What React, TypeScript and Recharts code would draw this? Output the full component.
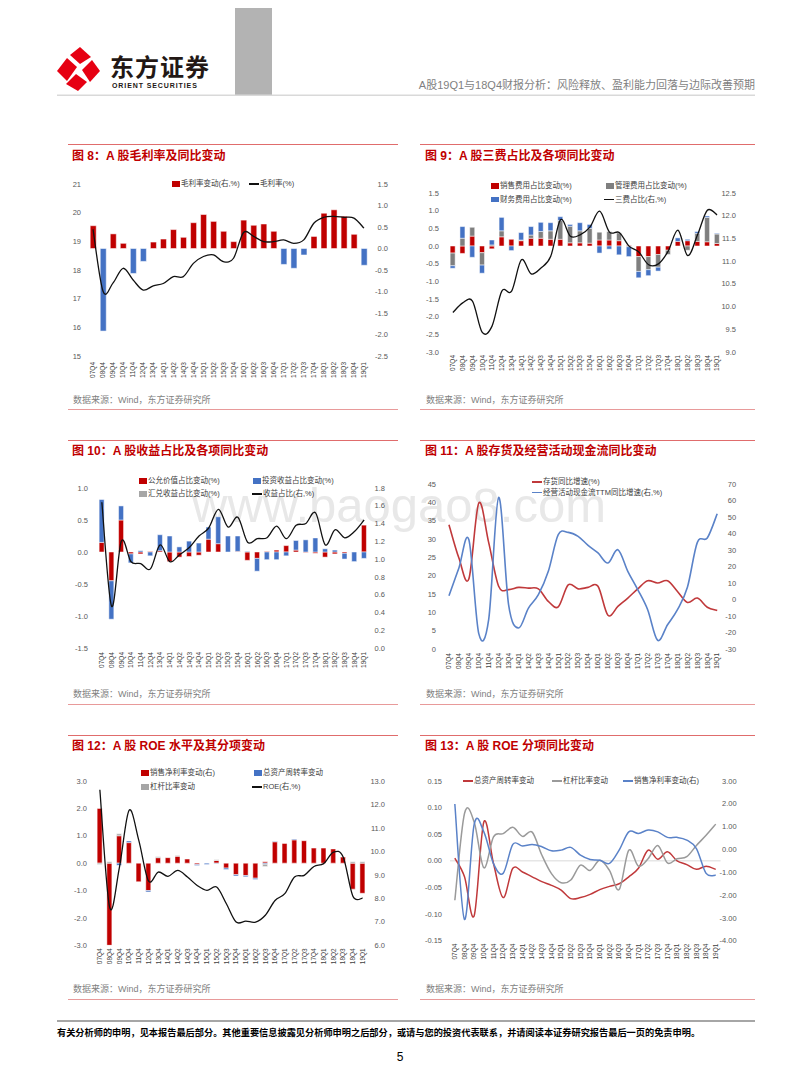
import React from 'react'
import { ComposedChart, Bar, Line, XAxis, YAxis, Cell, ReferenceLine } from 'recharts'

const QUARTERS = [
  '07Q4', '08Q4', '09Q4', '10Q4', '11Q4', '12Q4', '13Q4', '14Q1', '14Q2', '14Q3', '14Q4',
  '15Q1', '15Q2', '15Q3', '15Q4', '16Q1', '16Q2', '16Q3', '16Q4', '17Q1', '17Q2', '17Q3', '17Q4',
  '18Q1', '18Q2', '18Q3', '18Q4', '19Q1',
]

// 图8 毛利率
const GM_CHANGE = [0.53, -1.92, 0.34, 0.12, -0.58, -0.3, 0.15, 0.22, 0.44, 0.26, 0.6, 0.79, 0.63, 0.4, 0.16, 0.66, 0.54, 0.57, 0.4, -0.37, -0.46, -0.15, 0.28, 0.82, 0.9, 0.75, 0.33, -0.39]
const GM_RATE = [19.42, 17.26, 17.55, 18.06, 17.65, 17.3, 17.45, 17.53, 17.77, 17.77, 18.23, 18.47, 18.53, 18.29, 18.41, 19.31, 19.17, 18.99, 18.99, 19.05, 18.93, 19.05, 19.63, 19.84, 19.87, 19.84, 19.81, 19.46]

// 图9 三费
const SALES_EXP = [-0.2, -0.21, 0.28, -0.19, -0.08, 0.26, 0.19, 0.15, 0.22, 0.22, 0.19, 0.19, 0.09, 0.09, 0.08, 0.17, 0.17, 0.15, 0.02, -0.3, -0.3, -0.24, -0.12, 0.13, 0.15, 0.13, 0.12, 0.07]
const MGMT_EXP = [-0.36, 0.22, 0.25, -0.35, 0.03, 0.17, 0.0, 0.02, 0.09, 0.19, 0.24, 0.53, 0.47, 0.34, 0.42, 0.22, 0.24, 0.22, -0.02, -0.42, -0.37, -0.36, -0.12, 0.0, -0.12, 0.23, 0.69, 0.27]
const FIN_EXP = [-0.07, 0.33, -0.32, -0.23, 0.14, 0.38, -0.13, 0.21, 0.24, 0.26, 0.23, 0.11, 0.05, 0.23, 0.11, -0.2, -0.09, -0.25, -0.28, -0.18, -0.17, -0.11, 0.0, 0.1, 0.04, 0.05, 0.04, 0.02]
const THREE_EXP = [9.87, 10.08, 10.12, 9.43, 9.57, 10.34, 10.34, 11.03, 10.72, 10.85, 11.11, 11.91, 11.55, 11.58, 11.75, 12.1, 11.64, 11.63, 11.33, 11.2, 10.92, 10.94, 11.22, 11.68, 11.12, 11.58, 12.12, 12.02]

// 图10 收益占比
const FAIR_VALUE = [0.15, -0.45, 0.5, -0.03, -0.03, 0.01, 0.02, -0.15, -0.08, -0.07, -0.05, 0.2, 0.13, 0.0, 0.01, -0.13, -0.1, 0.01, 0.03, 0.1, 0.03, -0.01, -0.02, -0.08, -0.03, -0.02, 0.0, 0.42]
const INVEST_INC = [0.67, -0.6, 0.22, -0.14, 0.02, -0.06, 0.25, 0.25, 0.08, 0.17, 0.14, 0.19, 0.42, 0.25, 0.24, 0.01, -0.2, -0.12, -0.12, -0.06, 0.15, 0.19, 0.22, 0.05, 0.03, -0.09, -0.15, -0.1]
const FX_INC = [0, 0, 0, 0, 0, 0, 0, 0, 0, 0, 0, 0, 0, 0, 0, 0, 0, 0, 0, 0, 0, 0, 0, 0, 0, 0, 0, 0]
const INCOME_SHARE = [1.64, 0.47, 1.2, 0.97, 0.95, 0.89, 1.16, 0.97, 1.05, 1.13, 1.26, 1.35, 1.56, 1.36, 1.47, 1.19, 1.23, 1.24, 1.37, 1.23, 1.38, 1.4, 1.52, 1.16, 1.33, 1.24, 1.31, 1.44]

// 图11 存货与现金流
const INVENTORY = [33.9, 24.8, 19.1, 39.8, 29.0, 17.1, 16.2, 16.8, 16.6, 16.4, 13.0, 11.5, 17.5, 16.4, 16.8, 17.1, 9.2, 11.6, 13.9, 16.4, 18.6, 18.0, 18.6, 15.7, 12.7, 13.9, 11.4, 10.5]
const CASHFLOW = [2.3, 19.1, 36.3, -20.7, -12.0, 61.9, -3.1, -17.3, -5.2, 2.9, 17.1, 39.3, 40.7, 38.3, 32.8, 28.2, 22.1, 30.2, 17.1, 6.0, -6.2, -24.7, -15.3, -6.2, 7.4, 34.6, 37.3, 52.0]

// 图12 ROE 分项
const NPM_BAR = [2.0, -3.0, 1.0, 0.75, -0.68, -1.0, 0.2, 0.2, 0.25, 0.15, -0.05, 0.0, 0.1, -0.18, -0.42, -0.45, -0.55, 0.05, 0.78, 0.72, 0.85, 0.82, 0.55, 0.55, 0.52, 0.22, -0.95, -1.1]
const TURN_BAR = [0, 0, -0.08, 0.06, 0, -0.05, 0, 0, 0, 0, -0.04, -0.05, -0.02, -0.05, -0.05, -0.05, -0.05, -0.04, 0.02, 0, 0.03, 0, 0, 0, 0, 0, 0, 0]
const LEV_BAR = [-0.05, 0.05, 0.07, 0, 0, 0, 0.03, 0, 0.03, 0, 0, 0, 0.02, 0, 0, 0, 0, -0.08, 0, 0, 0, 0, 0, 0, 0, 0, 0.05, 0.05]
const ROE = [12.63, 7.63, 9.3, 11.75, 10.47, 8.74, 9.12, 8.94, 9.19, 8.91, 8.55, 8.34, 8.48, 7.77, 6.99, 7.03, 6.99, 7.28, 7.91, 8.2, 8.91, 8.98, 9.36, 9.48, 9.97, 9.76, 8.09, 8.01]

// 图13 ROE 分项同比
const TURN_CHG = [0.005, -0.03, -0.103, 0.073, -0.005, -0.069, -0.014, -0.021, -0.03, -0.039, -0.046, -0.055, -0.071, -0.069, -0.063, -0.054, -0.048, -0.043, -0.03, -0.014, 0.02, 0.003, 0.017, 0.0, -0.007, -0.016, -0.01, -0.016]
const LEV_CHG = [-0.074, 0.089, 0.073, -0.013, 0.045, 0.051, 0.063, 0.046, 0.054, 0.011, -0.024, -0.041, -0.036, -0.008, -0.018, 0.001, -0.018, -0.054, 0.02, -0.01, 0.004, 0.029, -0.004, 0.004, 0.008, 0.029, 0.048, 0.069]
const NPM_CHG = [1.99, -3.07, 1.1, 0.77, -0.62, -1.05, 0.22, 0.15, 0.22, 0.12, -0.06, -0.03, 0.09, -0.25, -0.44, -0.47, -0.61, -0.03, 0.77, 0.7, 0.85, 0.77, 0.53, 0.53, 0.41, 0.04, -1.05, -1.13]

// tick labels
const T8L = [15, 16, 17, 18, 19, 20, 21]
const T8R = [-2.5, -2, -1.5, -1, -0.5, 0, 0.5, 1, 1.5]
const T9L = [-3, -2.5, -2, -1.5, -1, -0.5, 0, 0.5, 1, 1.5]
const T9R = [9, 9.5, 10, 10.5, 11, 11.5, 12, 12.5]
const T10L = [-1.5, -1, -0.5, 0, 0.5, 1]
const T10R = [0, 0.2, 0.4, 0.6, 0.8, 1, 1.2, 1.4, 1.6, 1.8]
const T11L = [0, 5, 10, 15, 20, 25, 30, 35, 40, 45]
const T11R = [-30, -20, -10, 0, 10, 20, 30, 40, 50, 60, 70]
const T12L = [-3, -2, -1, 0, 1, 2, 3]
const T12R = [6, 7, 8, 9, 10, 11, 12, 13]
const T13L = [-0.15, -0.1, -0.05, 0, 0.05, 0.1, 0.15]
const T13R = [-4, -3, -2, -1, 0, 1, 2, 3]

const RED = '#c00000'
const BLUE = '#4472c4'
const GREY = '#7f7f7f'
const LIGHT_GREY = '#a6a6a6'
const FONT = '"Liberation Sans", "Noto Sans CJK SC", sans-serif'

const f0 = (v: number) => v.toFixed(0)
const f1 = (v: number) => v.toFixed(1)
const f2 = (v: number) => v.toFixed(2)

// Excel-like smoothed line (Catmull-Rom through the points)
function smooth(context: any) {
  let pts: number[][] = []
  return {
    areaStart() {},
    areaEnd() {},
    lineStart() { pts = [] },
    point(x: number, y: number) { pts.push([+x, +y]) },
    lineEnd() {
      const n = pts.length
      if (!n) return
      context.moveTo(pts[0][0], pts[0][1])
      for (let i = 0; i < n - 1; i++) {
        const p0 = pts[Math.max(i - 1, 0)]
        const p1 = pts[i]
        const p2 = pts[i + 1]
        const p3 = pts[Math.min(i + 2, n - 1)]
        const k = 1 / 6
        context.bezierCurveTo(
          p1[0] + (p2[0] - p0[0]) * k, p1[1] + (p2[1] - p0[1]) * k,
          p2[0] - (p3[0] - p1[0]) * k, p2[1] - (p3[1] - p1[1]) * k,
          p2[0], p2[1],
        )
      }
    },
  }
}

const Tick = (props: any) => {
  const { x, y, payload, dx = 0, fmt } = props
  return (
    <text x={x + dx} y={y} dy="0.35em" textAnchor="end" fontSize={7.5} fill="#595959" fontFamily={FONT}>
      {fmt(payload.value)}
    </text>
  )
}

const QTick = (props: any) => {
  const { x, y, payload } = props
  return (
    <text x={x} y={y} dy="0.35em" textAnchor="end" transform={`rotate(-90 ${x} ${y})`}
      fontSize={6.5} fill="#404040" fontFamily={FONT}>
      {payload.value}
    </text>
  )
}

type Box = { x0: number; x1: number; y0: number; y1: number }
const PAD_L = 40
const PAD_R = 40
const PAD_T = 10
const PAD_B = 30

function frame(b: Box) {
  return {
    position: 'absolute' as const,
    left: b.x0 - PAD_L,
    top: b.y0 - PAD_T,
    width: b.x1 - b.x0 + PAD_L + PAD_R,
    height: b.y1 - b.y0 + PAD_T + PAD_B,
  }
}

function ChartFrame({ box, data, lineOnly, children, gapL, gapR, gapX, left, right }: any) {
  const f = frame(box)
  return (
    <div style={f}>
      <ComposedChart width={f.width} height={f.height} data={data} stackOffset="sign" barCategoryGap="22%"
        margin={{ top: PAD_T, right: 0, bottom: 0, left: 0 }}>
        <XAxis dataKey="q" height={PAD_B} axisLine={false} tickLine={false} tickSize={0} tickMargin={gapX}
          interval={0} tick={<QTick />} scale={lineOnly ? 'band' : 'auto'} />
        <YAxis yAxisId="L" orientation="left" width={PAD_L} domain={[left[0], left[left.length - 1]]} ticks={left}
          axisLine={false} tickLine={false} tickSize={0} tickMargin={gapL} interval={0}
          tick={<Tick fmt={left.fmt} />} allowDataOverflow />
        <YAxis yAxisId="R" orientation="right" width={PAD_R} domain={[right[0], right[right.length - 1]]} ticks={right}
          axisLine={false} tickLine={false} tickSize={0} tickMargin={0} interval={0}
          tick={<Tick fmt={right.fmt} dx={gapR} />} allowDataOverflow />
        {children}
      </ComposedChart>
    </div>
  )
}

function withFmt(arr: number[], fmt: (v: number) => string) {
  const a: any = arr.slice()
  a.fmt = fmt
  return a
}

type LegendItem = { x: number; y: number; label: string; color: string; kind: 'rect' | 'line' }

function LegendBox({ items }: { items: LegendItem[] }) {
  return (
    <>
      {items.map((it) => (
        <div key={it.label} style={{ position: 'absolute', left: it.x, top: it.y - 5, height: 10, display: 'flex', alignItems: 'center', whiteSpace: 'nowrap' }}>
          <span style={{ display: 'inline-block', width: it.kind === 'rect' ? 8 : 10, height: it.kind === 'rect' ? 5.5 : 1.5, background: it.color, marginRight: 1 }} />
          <span style={{ fontSize: 7.5, lineHeight: '10px', color: '#404040', fontFamily: FONT }}>{it.label}</span>
        </div>
      ))}
    </>
  )
}

function PanelFrame({ x, w, top, title, titleX, titleY, srcX, srcY, bottom }: any) {
  return (
    <>
      <div style={{ position: 'absolute', left: x, top, width: w, height: 1.2, background: '#e06c6c' }} />
      <div style={{ position: 'absolute', left: titleX, top: titleY - 6, height: 12, lineHeight: '12px', fontSize: 12, fontWeight: 'bold', color: RED, fontFamily: FONT, whiteSpace: 'nowrap' }}>{title}</div>
      <div style={{ position: 'absolute', left: srcX, top: srcY - 5, height: 10, lineHeight: '10px', fontSize: 9, color: '#7f7f7f', fontFamily: FONT, whiteSpace: 'nowrap' }}>数据来源：Wind，东方证券研究所</div>
      <div style={{ position: 'absolute', left: x, top: bottom, width: w, height: 1.2, background: '#e89a9a' }} />
    </>
  )
}

const rows = QUARTERS.map((q, i) => ({
  q,
  gmChg: GM_CHANGE[i], gm: GM_RATE[i],
  sales: SALES_EXP[i], mgmt: MGMT_EXP[i], fin: FIN_EXP[i], three: THREE_EXP[i],
  fair: FAIR_VALUE[i], inv: INVEST_INC[i], fx: FX_INC[i], income: INCOME_SHARE[i],
  stock: INVENTORY[i], cash: CASHFLOW[i],
  npm: NPM_BAR[i], turn: TURN_BAR[i], lev: LEV_BAR[i], roe: ROE[i],
  turnChg: TURN_CHG[i], levChg: LEV_CHG[i], npmChg: NPM_CHG[i],
}))

const barStroke = { stroke: '#ffffff', strokeWidth: 0.5, isAnimationActive: false }

export default function App() {
  return (
    <div style={{ position: 'relative', width: 800, height: 1086, margin: -8, background: '#fff', overflow: 'hidden', fontFamily: FONT }}>
      {/* header */}
      <svg width={800} height={110} style={{ position: 'absolute', left: 0, top: 0 }}>
        <rect x={235} y={0} width={37} height={95} fill="#b3b3b3" />
        <rect x={57} y={94.5} width={698} height={1.5} fill="#d9d9d9" />
        <g fill="#e60012">
          <polygon points="57,71 67,58 77,67 67,81" />
          <polygon points="70,55 80,47 91,57 80,64" />
          <polygon points="82,70 92,60 100,71 90,82" />
          <polygon points="66,84 76,74 87,82 78,91" />
        </g>
        <text x={110} y={76} fontSize={24} fontWeight="bold" letterSpacing={1} fill="#231815" fontFamily={FONT}>东方证券</text>
        <text x={112} y={87.5} fontSize={7} fontWeight="bold" letterSpacing={0.9} fill="#231815" fontFamily={FONT}>ORIENT  SECURITIES</text>
        <text x={755} y={89} fontSize={11} textAnchor="end" fill="#7f7f7f" fontFamily={FONT}>A股19Q1与18Q4财报分析：风险释放、盈利能力回落与边际改善预期</text>
      </svg>

      {/* watermark */}
      <svg width={800} height={600} style={{ position: 'absolute', left: 0, top: 0 }}>
        <text x={192} y={522} fontSize={49} fill="#e8e8e8" fontFamily={FONT}>www.baogao8.com</text>
      </svg>

      <PanelFrame x={68} w={330} top={143.5} title="图 8：A 股毛利率及同比变动" titleX={72} titleY={156} srcX={73} srcY={399.5} bottom={409} />
      <PanelFrame x={420} w={335} top={143.5} title="图 9：A 股三费占比及各项同比变动" titleX={425} titleY={156} srcX={426} srcY={399.5} bottom={409} />
      <PanelFrame x={68} w={330} top={439.5} title="图 10：A 股收益占比及各项同比变动" titleX={72} titleY={451} srcX={73} srcY={694} bottom={704} />
      <PanelFrame x={420} w={335} top={439.5} title="图 11：A 股存货及经营活动现金流同比变动" titleX={425} titleY={451} srcX={426} srcY={694} bottom={704} />
      <PanelFrame x={68} w={330} top={734.5} title="图 12：A 股 ROE 水平及其分项变动" titleX={72} titleY={746} srcX={73} srcY={989} bottom={999} />
      <PanelFrame x={420} w={335} top={734.5} title="图 13：A 股 ROE 分项同比变动" titleX={425} titleY={746} srcX={426} srcY={989} bottom={999} />

      {/* 图8 */}
      <ChartFrame box={{ x0: 88, x1: 369, y0: 184, y1: 356 }} data={rows} gapL={7} gapR={19} gapX={6}
        left={withFmt(T8L, f0)} right={withFmt(T8R, f1)}>
        <Bar yAxisId="R" dataKey="gmChg" {...barStroke}>
          {rows.map((r) => <Cell key={r.q} fill={r.gmChg >= 0 ? RED : BLUE} />)}
        </Bar>
        <Line yAxisId="L" dataKey="gm" type={smooth as any} stroke="#111" strokeWidth={1.3} dot={false} isAnimationActive={false} />
      </ChartFrame>
      <LegendBox items={[
        { x: 172, y: 184, label: '毛利率变动(右,%)', color: RED, kind: 'rect' },
        { x: 249, y: 184, label: '毛利率(%)', color: '#111', kind: 'line' },
      ]} />

      {/* 图9 */}
      <ChartFrame box={{ x0: 448, x1: 722, y0: 193.3, y1: 352.3 }} data={rows} gapL={9} gapR={14} gapX={3}
        left={withFmt(T9L, f1)} right={withFmt(T9R, f1)}>
        <Bar yAxisId="L" dataKey="sales" stackId="s" fill={RED} {...barStroke} />
        <Bar yAxisId="L" dataKey="mgmt" stackId="s" fill={GREY} {...barStroke} />
        <Bar yAxisId="L" dataKey="fin" stackId="s" fill={BLUE} {...barStroke} />
        <Line yAxisId="R" dataKey="three" type={smooth as any} stroke="#111" strokeWidth={1.3} dot={false} isAnimationActive={false} />
      </ChartFrame>
      <LegendBox items={[
        { x: 491, y: 186, label: '销售费用占比变动(%)', color: RED, kind: 'rect' },
        { x: 606, y: 186, label: '管理费用占比变动(%)', color: GREY, kind: 'rect' },
        { x: 491, y: 199.5, label: '财务费用占比变动(%)', color: BLUE, kind: 'rect' },
        { x: 604, y: 199.5, label: '三费占比(右,%)', color: '#111', kind: 'line' },
      ]} />

      {/* 图10 */}
      <ChartFrame box={{ x0: 97, x1: 369, y0: 488.3, y1: 648.3 }} data={rows} gapL={9} gapR={16} gapX={4}
        left={withFmt(T10L, f1)} right={withFmt(T10R, f1)}>
        <Bar yAxisId="L" dataKey="fair" stackId="s" fill={RED} {...barStroke} />
        <Bar yAxisId="L" dataKey="inv" stackId="s" fill={BLUE} {...barStroke} />
        <Bar yAxisId="L" dataKey="fx" stackId="s" fill={LIGHT_GREY} {...barStroke} />
        <Line yAxisId="R" dataKey="income" type={smooth as any} stroke="#111" strokeWidth={1.3} dot={false} isAnimationActive={false} />
      </ChartFrame>
      <LegendBox items={[
        { x: 139, y: 481, label: '公允价值占比变动(%)', color: RED, kind: 'rect' },
        { x: 253, y: 481, label: '投资收益占比变动(%)', color: BLUE, kind: 'rect' },
        { x: 139, y: 494, label: '汇兑收益占比变动(%)', color: LIGHT_GREY, kind: 'rect' },
        { x: 252, y: 494, label: '收益占比(右,%)', color: '#111', kind: 'line' },
      ]} />

      {/* 图11 */}
      <ChartFrame box={{ x0: 444.4, x1: 722.6, y0: 484.3, y1: 649.3 }} data={rows} lineOnly gapL={8} gapR={14} gapX={4}
        left={withFmt(T11L, f0)} right={withFmt(T11R, f0)}>
        <Line yAxisId="L" dataKey="stock" type={smooth as any} stroke="#c0393b" strokeWidth={1.6} dot={false} isAnimationActive={false} />
        <Line yAxisId="R" dataKey="cash" type={smooth as any} stroke="#5a82c8" strokeWidth={1.6} dot={false} isAnimationActive={false} />
      </ChartFrame>
      <LegendBox items={[
        { x: 532, y: 482, label: '存货同比增速(%)', color: '#c0393b', kind: 'line' },
        { x: 532, y: 492.5, label: '经营活动现金流TTM同比增速(右,%)', color: '#5a82c8', kind: 'line' },
      ]} />

      {/* 图12 */}
      <ChartFrame box={{ x0: 95, x1: 367.5, y0: 780.7, y1: 945 }} data={rows} gapL={8} gapR={17.5} gapX={3}
        left={withFmt(T12L, f1)} right={withFmt(T12R, f1)}>
        <Bar yAxisId="L" dataKey="npm" stackId="s" fill={RED} {...barStroke} />
        <Bar yAxisId="L" dataKey="turn" stackId="s" fill={BLUE} {...barStroke} />
        <Bar yAxisId="L" dataKey="lev" stackId="s" fill={LIGHT_GREY} {...barStroke} />
        <Line yAxisId="R" dataKey="roe" type={smooth as any} stroke="#111" strokeWidth={1.3} dot={false} isAnimationActive={false} />
      </ChartFrame>
      <LegendBox items={[
        { x: 141, y: 773, label: '销售净利率变动(右)', color: RED, kind: 'rect' },
        { x: 254, y: 773, label: '总资产周转率变动', color: BLUE, kind: 'rect' },
        { x: 141, y: 787, label: '杠杆比率变动', color: LIGHT_GREY, kind: 'rect' },
        { x: 252, y: 787, label: 'ROE(右,%)', color: '#111', kind: 'line' },
      ]} />

      {/* 图13 */}
      <ChartFrame box={{ x0: 450.2, x1: 720.8, y0: 781, y1: 940.7 }} data={rows} lineOnly gapL={8} gapR={16} gapX={3}
        left={withFmt(T13L, f2)} right={withFmt(T13R, f2)}>
        <ReferenceLine yAxisId="L" y={0} stroke="#d9d9d9" strokeWidth={1} />
        <Line yAxisId="L" dataKey="turnChg" type={smooth as any} stroke="#c0393b" strokeWidth={1.5} dot={false} isAnimationActive={false} />
        <Line yAxisId="L" dataKey="levChg" type={smooth as any} stroke="#9a9a9a" strokeWidth={1.5} dot={false} isAnimationActive={false} />
        <Line yAxisId="R" dataKey="npmChg" type={smooth as any} stroke="#5a82c8" strokeWidth={1.5} dot={false} isAnimationActive={false} />
      </ChartFrame>
      <LegendBox items={[
        { x: 463, y: 781, label: '总资产周转率变动', color: '#c0393b', kind: 'line' },
        { x: 552, y: 781, label: '杠杆比率变动', color: '#9a9a9a', kind: 'line' },
        { x: 623, y: 781, label: '销售净利率变动(右)', color: '#5a82c8', kind: 'line' },
      ]} />

      {/* footer */}
      <div style={{ position: 'absolute', left: 57, top: 1020, width: 698, height: 2, background: '#a6a6a6' }} />
      <div style={{ position: 'absolute', left: 57, top: 1028, height: 10, lineHeight: '10px', fontSize: 9.2, fontWeight: 'bold', color: '#000', whiteSpace: 'nowrap' }}>
        有关分析师的申明，见本报告最后部分。其他重要信息披露见分析师申明之后部分，或请与您的投资代表联系，并请阅读本证券研究报告最后一页的免责申明。
      </div>
      <div style={{ position: 'absolute', left: 390, width: 20, textAlign: 'center', top: 1050, lineHeight: '14px', fontSize: 12, color: '#000' }}>5</div>
    </div>
  )
}
